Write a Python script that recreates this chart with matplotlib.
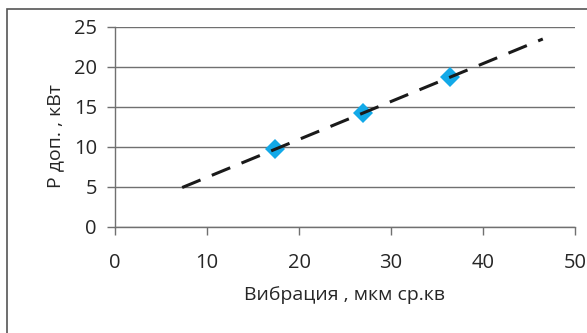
import numpy as np
import matplotlib
matplotlib.use("Agg")
import matplotlib.pyplot as plt
from matplotlib.patches import Rectangle

plt.rcParams['font.family'] = ['Open Sans', 'DejaVu Sans']

# measured points
vibration = [17.4, 27.0, 36.4]
power = [9.7, 14.3, 18.7]
trend_range = [7.3, 46.5]

x_ticks = [0, 10, 20, 30, 40, 50]
y_ticks = [0, 5, 10, 15, 20, 25]

txt = '#262626'
gridc = '#707070'

fig = plt.figure(figsize=(5.87, 3.33), dpi=100)
# outer frame (cut off at right and bottom)
fig.patches.append(Rectangle((7 / 587, -0.05), 1.0, (333 - 9) / 333 + 0.05,
                             transform=fig.transFigure, fill=False,
                             edgecolor='#555555', lw=1.2))

ax = fig.add_axes([115 / 587, (333 - 227) / 333, 460 / 587, 200 / 333])

# linear trend through the points
k, b = np.polyfit(vibration, power, 1)
xt = np.array(trend_range)
ax.plot(xt, k * xt + b, color='#1a1a1a', lw=2.2, dashes=(6.5, 4), zorder=3)
ax.plot(vibration, power, 'D', color='#12A9E8', ms=10, mew=0, zorder=2)

ax.set_xlim(0, 50)
ax.set_ylim(0, 25)
ax.set_xticks(x_ticks)
ax.set_yticks(y_ticks)
ax.yaxis.grid(True, color=gridc, lw=1.0)
ax.set_axisbelow(True)
for s in ['top', 'right']:
    ax.spines[s].set_visible(False)
for s in ['left', 'bottom']:
    ax.spines[s].set_color(gridc)
    ax.spines[s].set_linewidth(1.0)
ax.tick_params(axis='both', colors=gridc, labelcolor=txt, labelsize=14.5,
               length=6, width=1.0)
ax.tick_params(axis='x', pad=13)
ax.tick_params(axis='y', pad=7)

ax.set_xlabel('Вибрация , мкм ср.кв', fontsize=14, color=txt, labelpad=9)
ax.set_ylabel('Р доп. , кВт', fontsize=14, color=txt)
ax.yaxis.set_label_coords(-0.110, 0.455)

fig.savefig('out.png', dpi=100)
